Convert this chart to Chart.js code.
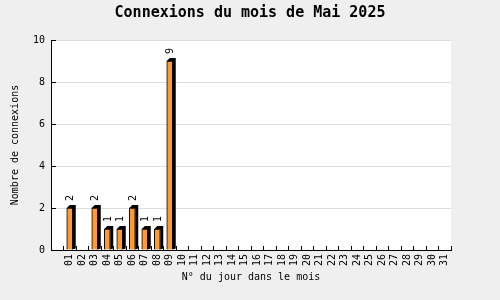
<!DOCTYPE html>
<html lang="fr">
<head>
<meta charset="utf-8" />
<title>Connexions du mois de Mai 2025</title>
<script src="https://cdn.jsdelivr.net/npm/chart.js"></script>
<style>
  html, body { margin: 0; padding: 0; background: #efefef; }
  #wrap { width: 500px; height: 300px; }
</style>
</head>
<body>
<div id="wrap"><canvas id="chart" width="500" height="300"></canvas></div>
<script>
// jours du mois (le premier creneau est vide, comme sur l'original)
const jours = ["", "01","02","03","04","05","06","07","08","09","10","11","12","13","14","15",
  "16","17","18","19","20","21","22","23","24","25","26","27","28","29","30","31"];
const connexions = [null, 2, 0, 2, 1, 1, 2, 1, 1, 9, 0, 0, 0, 0, 0, 0,
  0, 0, 0, 0, 0, 0, 0, 0, 0, 0, 0, 0, 0, 0, 0, 0];
const yTicks = [0, 2, 4, 6, 8, 10];

const monoFont = "'DejaVu Sans Mono', 'Liberation Mono', monospace";

// fond gris + zone blanche
const background = {
  id: "background",
  beforeDraw(chart) {
    const { ctx, chartArea: a } = chart;
    ctx.save();
    ctx.fillStyle = "#efefef";
    ctx.fillRect(0, 0, chart.width, chart.height);
    ctx.fillStyle = "#ffffff";
    ctx.fillRect(a.left, a.top, a.right - a.left, a.bottom - a.top);
    ctx.restore();
  }
};

// ombre 3D noire + valeurs au-dessus des barres
const bars3d = {
  id: "bars3d",
  beforeDatasetsDraw(chart) {
    const ctx = chart.ctx;
    const d = 3;
    chart.getDatasetMeta(0).data.forEach((bar, i) => {
      const v = connexions[i];
      if (!v) return;
      const l = bar.x - bar.width / 2, r = bar.x + bar.width / 2;
      ctx.save();
      ctx.fillStyle = "#000000";
      ctx.beginPath();
      ctx.moveTo(l, bar.y);
      ctx.lineTo(l + d, bar.y - d);
      ctx.lineTo(r + d, bar.y - d);
      ctx.lineTo(r + d, bar.base - 1);
      ctx.lineTo(r, bar.base);
      ctx.lineTo(r, bar.y);
      ctx.closePath();
      ctx.fill();
      ctx.restore();
    });
  },
  afterDatasetsDraw(chart) {
    const ctx = chart.ctx;
    chart.getDatasetMeta(0).data.forEach((bar, i) => {
      const v = connexions[i];
      if (!v) return;
      ctx.save();
      ctx.translate(bar.x + 1, bar.y - 7);
      ctx.rotate(-Math.PI / 2);
      ctx.fillStyle = "#000000";
      ctx.font = "10px " + monoFont;
      ctx.textAlign = "left";
      ctx.textBaseline = "middle";
      ctx.fillText(String(v), 0, 0);
      ctx.restore();
    });
  }
};

new Chart(document.getElementById("chart"), {
  type: "bar",
  data: {
    labels: jours,
    datasets: [{
      data: connexions,
      backgroundColor: "#ff9933",
      borderColor: "#000000",
      borderWidth: 1,
      borderSkipped: "bottom",
      barThickness: 6
    }]
  },
  options: {
    responsive: false,
    animation: false,
    layout: { padding: 0 },
    plugins: {
      legend: { display: false },
      tooltip: { enabled: false },
      title: {
        display: true,
        text: "Connexions du mois de Mai 2025",
        color: "#000000",
        font: { family: monoFont, size: 15, weight: "bold" },
        padding: { top: 4, bottom: 18 }
      }
    },
    scales: {
      x: {
        offset: true,
        border: { color: "#000000", width: 1 },
        grid: {
          offset: true,
          drawOnChartArea: false,
          tickLength: -4,
          tickColor: "#000000"
        },
        ticks: {
          autoSkip: false,
          minRotation: 90,
          maxRotation: 90,
          padding: 8,
          color: "#000000",
          font: { family: monoFont, size: 10 }
        },
        title: {
          display: true,
          text: "N° du jour dans le mois",
          color: "#000000",
          font: { family: monoFont, size: 10 },
          padding: { top: 0, bottom: 17 }
        },
        afterFit(scale) { scale.height = 50; }
      },
      y: {
        min: 0,
        max: 10,
        border: { color: "#000000", width: 1 },
        grid: {
          color: "#dddddd",
          tickColor: "#000000",
          tickLength: -5
        },
        afterBuildTicks(scale) {
          scale.ticks = yTicks.map(v => ({ value: v }));
        },
        ticks: {
          padding: 11,
          color: "#000000",
          font: { family: monoFont, size: 10 }
        },
        title: {
          display: true,
          text: "Nombre de connexions",
          color: "#000000",
          font: { family: monoFont, size: 10 },
          padding: { top: 9, bottom: 0 }
        },
        afterFit(scale) { scale.width = 51; }
      },
      marge: {
        position: "right",
        min: 0,
        max: 10,
        display: true,
        border: { display: false },
        grid: { display: false },
        ticks: { display: false },
        afterFit(scale) { scale.width = 49; }
      }
    }
  },
  plugins: [background, bars3d]
});
</script>
</body>
</html>
